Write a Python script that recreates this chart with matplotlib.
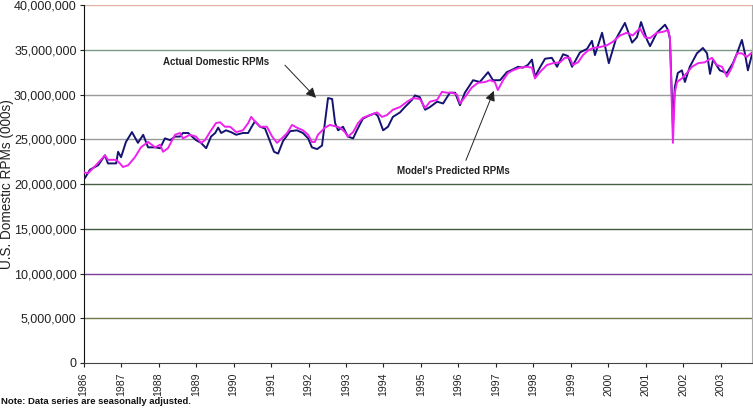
import matplotlib
matplotlib.use("Agg")
import matplotlib.pyplot as plt
from matplotlib.ticker import FuncFormatter

plt.rcParams['font.family'] = ['Liberation Sans', 'DejaVu Sans']

# ---- data (millions of RPMs, 000s scale shown on axis) ----
actual_t = [1986.04, 1986.17, 1986.39, 1986.57, 1986.65, 1986.87, 1986.92, 1987.00, 1987.13, 1987.29,
            1987.45, 1987.59, 1987.72, 1987.91, 1988.04, 1988.17, 1988.31, 1988.44, 1988.57, 1988.65,
            1988.79, 1989.00, 1989.13, 1989.27, 1989.40, 1989.51, 1989.59, 1989.67, 1989.80, 1989.93,
            1990.07, 1990.25, 1990.39, 1990.47, 1990.57, 1990.71, 1990.84, 1990.97, 1991.08, 1991.19,
            1991.32, 1991.51, 1991.69, 1991.85, 1991.99, 1992.09, 1992.23, 1992.36, 1992.44, 1992.52,
            1992.63, 1992.71, 1992.79, 1992.92, 1993.05, 1993.19, 1993.29, 1993.45, 1993.59, 1993.77,
            1993.85, 1993.99, 1994.12, 1994.25, 1994.44, 1994.57, 1994.76, 1994.84, 1994.97, 1995.11,
            1995.24, 1995.43, 1995.59, 1995.77, 1995.91, 1996.04, 1996.17, 1996.39, 1996.57, 1996.79,
            1996.92, 1997.11, 1997.29, 1997.45, 1997.59, 1997.72, 1997.85, 1997.96, 1998.04, 1998.17,
            1998.31, 1998.49, 1998.63, 1998.79, 1998.92, 1999.03, 1999.24, 1999.43, 1999.56, 1999.64,
            1999.83, 2000.01, 2000.20, 2000.44, 2000.63, 2000.76, 2000.87, 2001.03, 2001.11, 2001.29,
            2001.51, 2001.59, 2001.64, 2001.72, 2001.77, 2001.85, 2001.96, 2002.04, 2002.17, 2002.36,
            2002.52, 2002.63, 2002.71, 2002.79, 2002.97, 2003.16, 2003.32, 2003.43, 2003.56, 2003.64,
            2003.72, 2003.83]
actual_v = [20.7, 21.6, 22.1, 23.2, 22.3, 22.3, 23.6, 23.0, 24.7, 25.8,
            24.6, 25.5, 24.1, 24.1, 24.0, 25.1, 24.9, 25.3, 25.3, 25.7,
            25.7, 24.9, 24.6, 24.0, 25.3, 25.7, 26.3, 25.7, 26.0, 25.8,
            25.5, 25.7, 25.7, 26.3, 27.0, 26.4, 26.2, 24.8, 23.6, 23.4,
            24.8, 25.9, 26.0, 25.7, 25.1, 24.1, 23.9, 24.3, 27.0, 29.6,
            29.5, 26.8, 26.0, 26.4, 25.3, 25.1, 26.0, 27.3, 27.6, 27.9,
            27.6, 26.0, 26.4, 27.5, 28.0, 28.6, 29.4, 29.9, 29.7, 28.3,
            28.6, 29.2, 29.0, 30.2, 30.2, 28.8, 30.2, 31.6, 31.4, 32.5,
            31.6, 31.6, 32.5, 32.8, 33.1, 33.0, 33.3, 33.9, 32.0, 33.0,
            34.0, 34.1, 33.1, 34.5, 34.3, 33.1, 34.7, 35.1, 36.0, 34.4,
            36.9, 33.5, 36.2, 38.0, 35.8, 36.4, 38.1, 36.1, 35.4, 36.9,
            37.8, 37.2, 36.2, 26.5, 30.8, 32.4, 32.7, 31.4, 33.1, 34.6,
            35.2, 34.6, 32.3, 33.9, 32.7, 32.4, 33.5, 34.6, 36.1, 34.6,
            32.7, 34.5]

pred_t = [1986.00, 1986.12, 1986.33, 1986.57, 1986.65, 1986.87, 1986.97, 1987.05, 1987.19, 1987.37,
          1987.53, 1987.72, 1987.91, 1988.04, 1988.12, 1988.25, 1988.44, 1988.57, 1988.65, 1988.84,
          1989.00, 1989.13, 1989.24, 1989.37, 1989.53, 1989.64, 1989.77, 1989.91, 1990.07, 1990.25,
          1990.39, 1990.47, 1990.57, 1990.71, 1990.89, 1991.03, 1991.16, 1991.29, 1991.43, 1991.56,
          1991.69, 1991.85, 1991.99, 1992.09, 1992.17, 1992.25, 1992.44, 1992.57, 1992.76, 1992.84,
          1992.97, 1993.05, 1993.19, 1993.32, 1993.45, 1993.64, 1993.83, 1993.96, 1994.09, 1994.25,
          1994.44, 1994.63, 1994.79, 1994.97, 1995.11, 1995.24, 1995.43, 1995.56, 1995.69, 1995.83,
          1995.96, 1996.04, 1996.17, 1996.36, 1996.52, 1996.71, 1996.84, 1996.97, 1997.05, 1997.19,
          1997.32, 1997.45, 1997.64, 1997.83, 1997.96, 1998.04, 1998.17, 1998.36, 1998.52, 1998.71,
          1998.84, 1998.97, 1999.05, 1999.19, 1999.32, 1999.45, 1999.59, 1999.77, 1999.96, 2000.12,
          2000.31, 2000.49, 2000.65, 2000.84, 2000.97, 2001.11, 2001.29, 2001.45, 2001.59, 2001.64,
          2001.72, 2001.77, 2001.83, 2001.96, 2002.09, 2002.23, 2002.39, 2002.57, 2002.76, 2002.89,
          2003.03, 2003.16, 2003.29, 2003.43, 2003.56, 2003.69, 2003.83]
pred_v = [21.3, 21.2, 22.1, 23.2, 22.7, 22.7, 22.3, 21.9, 22.1, 23.0,
          24.1, 24.7, 24.1, 24.4, 23.6, 24.0, 25.5, 25.7, 25.1, 25.5,
          25.3, 24.6, 24.9, 25.8, 26.8, 26.9, 26.4, 26.4, 25.8, 26.0,
          26.8, 27.5, 27.0, 26.4, 26.4, 25.3, 24.6, 25.1, 25.7, 26.6,
          26.3, 26.0, 25.5, 24.7, 24.7, 25.5, 26.3, 26.6, 26.4, 26.3,
          25.8, 25.3, 25.8, 26.8, 27.4, 27.7, 28.0, 27.5, 27.7, 28.3,
          28.6, 29.2, 29.6, 29.5, 28.5, 29.2, 29.4, 30.3, 30.2, 30.2,
          30.0, 29.0, 29.7, 30.8, 31.3, 31.4, 31.6, 31.4, 30.5, 31.6,
          32.4, 32.7, 33.0, 33.1, 33.0, 31.8, 32.5, 33.3, 33.5, 33.6,
          34.1, 34.1, 33.3, 33.6, 34.4, 34.9, 35.2, 35.3, 35.5, 35.9,
          36.6, 36.9, 36.6, 37.4, 36.4, 36.3, 36.9, 37.0, 37.2, 36.4,
          24.6, 30.2, 31.4, 31.8, 32.4, 33.1, 33.5, 33.6, 34.1, 33.3,
          33.1, 32.0, 33.0, 34.6, 34.6, 34.2, 34.7]

year_ticks = list(range(1986, 2004))
y_ticks = [0, 5, 10, 15, 20, 25, 30, 35, 40]
grid_colors = ['#555555', '#6f7a4a', '#7a3f96', '#3f5a3f', '#4a6046', '#9a9a9a', '#9a9a9a', '#7f9a86', '#e2b4a6']

fig = plt.figure(figsize=(7.53, 4.08), dpi=100)
ax = fig.add_axes([0.111, 0.1103, 0.8877, 0.8774])

for yv, c in zip(y_ticks[1:], grid_colors[1:]):
    ax.axhline(yv, color=c, lw=1.0, zorder=1)

ax.plot(actual_t, actual_v, color='#141470', lw=1.4, zorder=3)
ax.plot(pred_t, pred_v, color='#ee22ee', lw=1.4, zorder=4)

ax.set_xlim(1986.0, 2003.83)
ax.set_ylim(0, 40)
ax.set_xticks(year_ticks)
ax.set_xticklabels([str(y) for y in year_ticks], rotation=90, fontsize=7.6)
ax.set_yticks(y_ticks)
ax.yaxis.set_major_formatter(FuncFormatter(lambda v, p: f"{int(round(v*1e6)):,}"))
ax.tick_params(axis='y', labelsize=9.0, length=3, width=0.8, pad=2, colors='#222222')
ax.tick_params(axis='x', length=3, width=0.8, pad=4, colors='#222222')

ax.spines['top'].set_visible(False)
ax.spines['left'].set_color('#111111')
ax.spines['bottom'].set_color('#444444')
ax.spines['right'].set_color('#aaaaaa')

ax.set_ylabel("U.S. Domestic RPMs (000s)", fontsize=9.8, color='#222222')
ax.yaxis.label.set_va('center')
ax.yaxis.set_label_coords(-0.114, 0.5)

ax.text(1989.53, 33.6, "Actual Domestic RPMs", fontsize=7, fontweight='bold',
        ha='center', va='center', color='#222222', zorder=5)
ax.annotate("", xy=(1992.25, 29.4), xytext=(1991.32, 33.5),
            arrowprops=dict(arrowstyle='-|>,head_length=0.6,head_width=0.3', color='#222222', lw=0.7), zorder=5)

ax.text(1995.87, 21.45, "Model's Predicted RPMs", fontsize=7, fontweight='bold',
        ha='center', va='center', color='#222222', zorder=5)
ax.annotate("", xy=(1996.97, 30.7), xytext=(1996.17, 22.35),
            arrowprops=dict(arrowstyle='-|>,head_length=0.6,head_width=0.3', color='#222222', lw=0.7), zorder=5)

fig.text(0.001, 0.004, "Note: Data series are seasonally adjusted.", fontsize=6.8,
         fontweight='bold', ha='left', va='bottom', color='#111111')

fig.savefig("out.png", dpi=100)
